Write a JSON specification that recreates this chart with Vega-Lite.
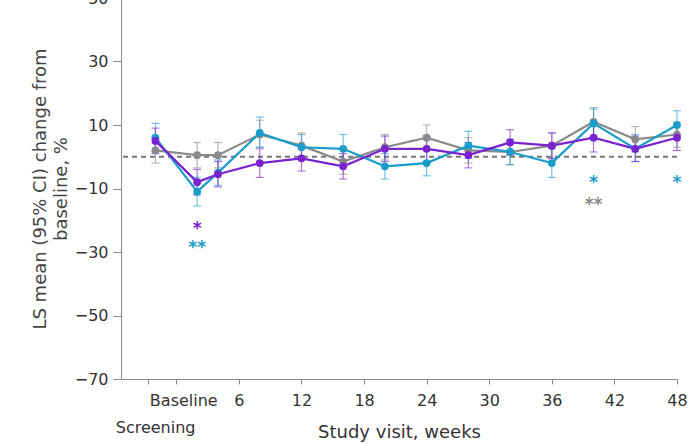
{
  "$schema": "https://vega.github.io/schema/vega-lite/v6.json",
  "width": 556,
  "height": 381,
  "autosize": {"type": "none"},
  "padding": {"left": 121, "top": -2, "right": 13, "bottom": 65},
  "background": "white",
  "config": {
    "view": {"stroke": null},
    "font": "DejaVu Sans",
    "axis": {"labelFont": "DejaVu Sans", "titleFont": "DejaVu Sans", "labelColor": "#333", "titleColor": "#444", "labelFontSize": 16, "titleFontSize": 18, "titleFontWeight": "normal", "domainColor": "#8a8a8a", "tickColor": "#8a8a8a", "grid": false}
  },
  "datasets": {
    "main": [
      {"week": -2, "group": "Gray", "mean": 2, "lo": -2, "hi": 6},
      {"week": 2, "group": "Gray", "mean": 0.5, "lo": -3.5, "hi": 4.5},
      {"week": 4, "group": "Gray", "mean": 0.5, "lo": -3.5, "hi": 4.5},
      {"week": 8, "group": "Gray", "mean": 7, "lo": 3, "hi": 11.5},
      {"week": 12, "group": "Gray", "mean": 3.5, "lo": -0.5, "hi": 7.5},
      {"week": 16, "group": "Gray", "mean": -1.5, "lo": -5.5, "hi": 2.5},
      {"week": 20, "group": "Gray", "mean": 3, "lo": -1, "hi": 7},
      {"week": 24, "group": "Gray", "mean": 6, "lo": 2, "hi": 10},
      {"week": 28, "group": "Gray", "mean": 2, "lo": -2, "hi": 6},
      {"week": 32, "group": "Gray", "mean": 1.5, "lo": -2.5, "hi": 5.5},
      {"week": 36, "group": "Gray", "mean": 3.5, "lo": -0.5, "hi": 7.5},
      {"week": 40, "group": "Gray", "mean": 11, "lo": 6.5, "hi": 15.5},
      {"week": 44, "group": "Gray", "mean": 5.5, "lo": 1.5, "hi": 9.5},
      {"week": 48, "group": "Gray", "mean": 7, "lo": 3, "hi": 11},
      {"week": -2, "group": "Cyan", "mean": 6, "lo": 1.5, "hi": 10.5},
      {"week": 2, "group": "Cyan", "mean": -11, "lo": -15.5, "hi": -6.5},
      {"week": 4, "group": "Cyan", "mean": -5, "lo": -9, "hi": -1},
      {"week": 8, "group": "Cyan", "mean": 7.5, "lo": 3, "hi": 12.5},
      {"week": 12, "group": "Cyan", "mean": 3, "lo": -1, "hi": 7},
      {"week": 16, "group": "Cyan", "mean": 2.5, "lo": -1.5, "hi": 7},
      {"week": 20, "group": "Cyan", "mean": -3, "lo": -7, "hi": 1},
      {"week": 24, "group": "Cyan", "mean": -2, "lo": -6, "hi": 2.5},
      {"week": 28, "group": "Cyan", "mean": 3.5, "lo": -0.5, "hi": 8},
      {"week": 32, "group": "Cyan", "mean": 1.5, "lo": -2.5, "hi": 5.5},
      {"week": 36, "group": "Cyan", "mean": -2, "lo": -6.5, "hi": 2.5},
      {"week": 40, "group": "Cyan", "mean": 10.5, "lo": 6, "hi": 15},
      {"week": 44, "group": "Cyan", "mean": 2.5, "lo": -1.5, "hi": 7},
      {"week": 48, "group": "Cyan", "mean": 10, "lo": 5.5, "hi": 14.5},
      {"week": -2, "group": "Purple", "mean": 5, "lo": 1, "hi": 9},
      {"week": 2, "group": "Purple", "mean": -8, "lo": -12, "hi": -4},
      {"week": 4, "group": "Purple", "mean": -5.5, "lo": -9.5, "hi": -1.5},
      {"week": 8, "group": "Purple", "mean": -2, "lo": -6.5, "hi": 2.5},
      {"week": 12, "group": "Purple", "mean": -0.5, "lo": -4.5, "hi": 3.5},
      {"week": 16, "group": "Purple", "mean": -3, "lo": -7, "hi": 1},
      {"week": 20, "group": "Purple", "mean": 2.5, "lo": -1.5, "hi": 6.5},
      {"week": 24, "group": "Purple", "mean": 2.5, "lo": -1.5, "hi": 6.5},
      {"week": 28, "group": "Purple", "mean": 0.5, "lo": -3.5, "hi": 4.5},
      {"week": 32, "group": "Purple", "mean": 4.5, "lo": 0.5, "hi": 8.5},
      {"week": 36, "group": "Purple", "mean": 3.5, "lo": -0.5, "hi": 7.5},
      {"week": 40, "group": "Purple", "mean": 6, "lo": 1.5, "hi": 10.5},
      {"week": 44, "group": "Purple", "mean": 2.5, "lo": -1.5, "hi": 6.5},
      {"week": 48, "group": "Purple", "mean": 6, "lo": 2, "hi": 10}
    ],
    "stars": [
      {"week": 2, "group": "Purple", "value": -21.5, "label": "*"},
      {"week": 2, "group": "Cyan", "value": -27.5, "label": "**"},
      {"week": 40, "group": "Cyan", "value": -7, "label": "*"},
      {"week": 40, "group": "Gray", "value": -14, "label": "**"},
      {"week": 48, "group": "Cyan", "value": -7, "label": "*"}
    ],
    "zero": [{"value": 0}]
  },
  "layer": [
    {
      "data": {"name": "zero"},
      "mark": {"type": "rule", "color": "#777", "strokeDash": [5, 4], "strokeWidth": 2},
      "encoding": {"y": {"field": "value", "type": "quantitative", "scale": {"domain": [-70, 50]}}}
    },
    {
      "data": {"name": "main"},
      "mark": {"type": "rule", "strokeWidth": 1.2, "opacity": 0.6},
      "encoding": {
        "x": {"field": "week", "type": "quantitative"},
        "y": {"field": "lo", "type": "quantitative"},
        "y2": {"field": "hi"},
        "color": {"field": "group", "type": "nominal", "legend": null, "scale": {"domain": ["Gray", "Cyan", "Purple"], "range": ["#8a8a8a", "#1b9dcc", "#7a22d0"]}}
      }
    },
    {
      "data": {"name": "main"},
      "mark": {"type": "tick", "size": 8, "thickness": 1.2, "orient": "horizontal", "opacity": 0.6},
      "encoding": {
        "x": {"field": "week", "type": "quantitative"},
        "y": {"field": "lo", "type": "quantitative"},
        "color": {"field": "group", "type": "nominal", "legend": null}
      }
    },
    {
      "data": {"name": "main"},
      "mark": {"type": "tick", "size": 8, "thickness": 1.2, "orient": "horizontal", "opacity": 0.6},
      "encoding": {
        "x": {"field": "week", "type": "quantitative"},
        "y": {"field": "hi", "type": "quantitative"},
        "color": {"field": "group", "type": "nominal", "legend": null}
      }
    },
    {
      "data": {"name": "main"},
      "mark": {"type": "line", "strokeWidth": 2.2},
      "encoding": {
        "x": {"field": "week", "type": "quantitative"},
        "y": {"field": "mean", "type": "quantitative"},
        "color": {"field": "group", "type": "nominal", "legend": null}
      }
    },
    {
      "data": {"name": "main"},
      "mark": {"type": "circle", "size": 60, "opacity": 1},
      "encoding": {
        "x": {
          "field": "week", "type": "quantitative",
          "scale": {"domain": [-5.3, 48], "nice": false, "zero": false},
          "axis": {
            "title": "Study visit, weeks",
            "values": [-2.7, 0, 6, 12, 18, 24, 30, 36, 42, 48],
            "labelExpr": "datum.value < -1 ? ['', 'Screening'] : (datum.value == 0 ? 'Baseline' : datum.label)",
            "labelOffset": {"condition": {"test": "datum.value < 1", "value": 7}, "value": 0},
            "labelLineHeight": 27,
            "tickSize": 5,
            "labelPadding": 8,
            "labelFlush": false,
            "labelOverlap": false,
            "titleY": 53,
            "titleBaseline": "middle",
            "titleColor": "#333"
          }
        },
        "y": {
          "field": "mean", "type": "quantitative",
          "scale": {"domain": [-70, 50], "nice": false},
          "axis": {
            "title": ["LS mean (95% CI) change from", "baseline, %"],
            "titleLineHeight": 21,
            "values": [-70, -50, -30, -10, 10, 30, 50],
            "tickSize": 8,
            "labelPadding": 5,
            "titlePadding": 4
          }
        },
        "color": {"field": "group", "type": "nominal", "legend": null}
      }
    },
    {
      "data": {"name": "stars"},
      "mark": {"type": "text", "fontSize": 17, "baseline": "middle", "dy": 4, "fontWeight": "bold"},
      "encoding": {
        "x": {"field": "week", "type": "quantitative"},
        "y": {"field": "value", "type": "quantitative"},
        "text": {"field": "label"},
        "color": {"field": "group", "type": "nominal", "legend": null}
      }
    }
  ]
}
